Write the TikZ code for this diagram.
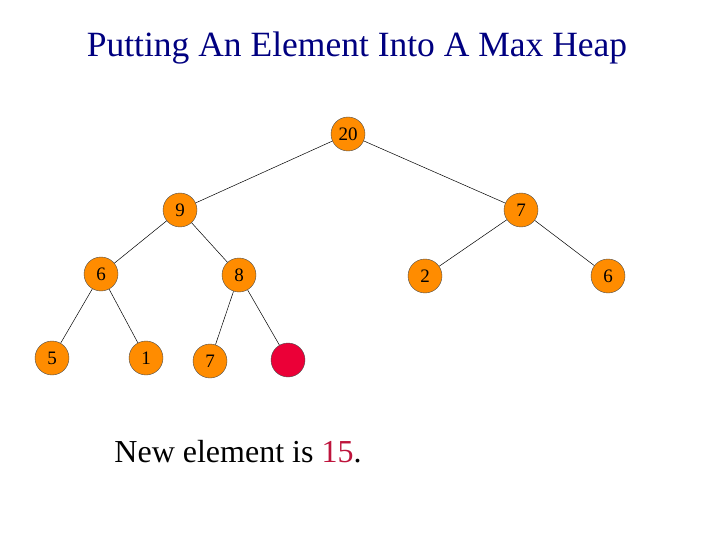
\documentclass[tikz,border=0pt]{standalone}
\usepackage{fontspec}
\setmainfont{Liberation Serif}
\begin{document}
\begin{tikzpicture}[x=1pt,y=-1pt,
  hn/.style={circle,draw=black!70,fill=orange!90!yellow,minimum size=34pt,inner sep=0pt,font=\fontsize{19}{19}\selectfont},
  rn/.style={circle,draw=black!70,fill=nodered,minimum size=34pt,inner sep=0pt},
  ed/.style={draw=black,line width=0.5pt}]
\useasboundingbox (0,0) rectangle (720,540);
\definecolor{titleblue}{RGB}{0,0,128}
\definecolor{numred}{RGB}{190,20,60}
\definecolor{nodered}{RGB}{235,0,55}
\node[text=titleblue,font=\fontsize{35.5}{35.5}\selectfont] (title) at (357,48) {Putting An Element Into A Max Heap};
\node[hn] (a) at (348,134) {20};
\node[hn] (b) at (180,210) {9};
\node[hn] (c) at (521,210) {7};
\node[hn] (d) at (101,274) {6};
\node[hn] (e) at (239,275) {8};
\node[hn] (f) at (425,276) {2};
\node[hn] (g) at (608,276) {6};
\node[hn] (h) at (52,358) {5};
\node[hn] (i) at (146,358) {1};
\node[hn] (j) at (210,361) {7};
\node[rn] (k) at (288,360) {};
\draw[ed] (a)--(b); \draw[ed] (a)--(c);
\draw[ed] (b)--(d); \draw[ed] (b)--(e);
\draw[ed] (c)--(f); \draw[ed] (c)--(g);
\draw[ed] (d)--(h); \draw[ed] (d)--(i);
\draw[ed] (e)--(j); \draw[ed] (e)--(k);
\node[font=\fontsize{32}{32}\selectfont] (txt) at (238,452) {New element is \textcolor{numred}{15}.};
\end{tikzpicture}
\end{document}
